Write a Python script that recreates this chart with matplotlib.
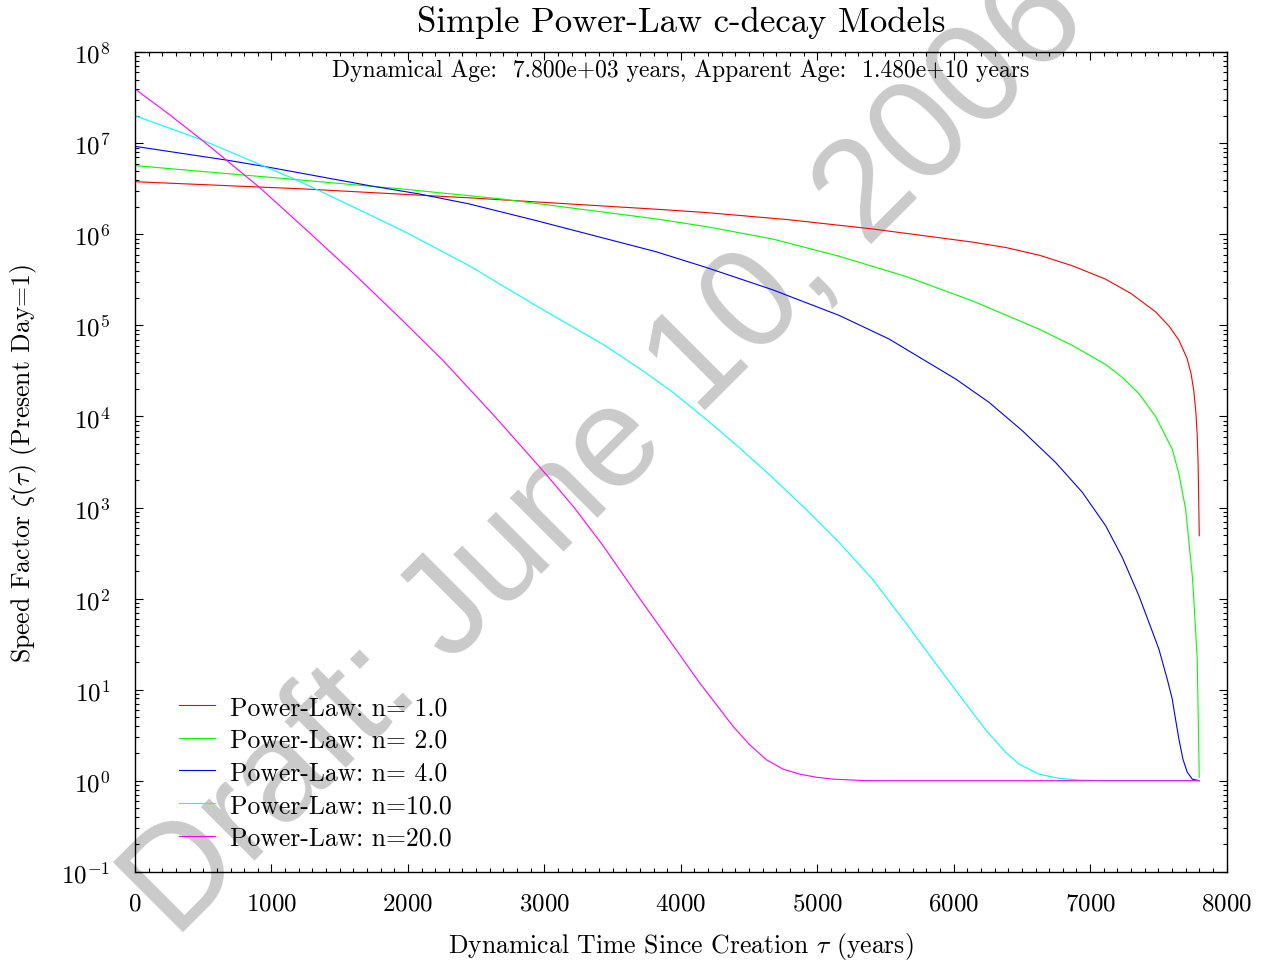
import numpy as np
from matplotlib import pyplot as plt
from matplotlib.ticker import MultipleLocator, LogLocator, NullFormatter

plt.rcParams['font.family'] = 'serif'
plt.rcParams['font.serif'] = ['cmr10']
plt.rcParams['mathtext.fontset'] = 'cm'
plt.rcParams['axes.formatter.use_mathtext'] = True

# Speed factor zeta(tau) vs dynamical time since creation (years), one pair per index n
tau_n1 = [0, 1230, 2450, 3820, 4180, 4790, 5400, 6140, 6385, 6630, 6870, 7110, 7300, 7480,
          7580, 7650, 7710, 7740, 7760, 7775, 7785, 7792, 7797, 7800]
zeta_n1 = [3.79e6, 3.16e6, 2.52e6, 1.89e6, 1.74e6, 1.45e6, 1.15e6, 8.22e5, 7.16e5, 5.89e5,
           4.52e5, 3.24e5, 2.24e5, 1.41e5, 9.77e4, 6.92e4, 4.37e4, 2.95e4, 1.91e4, 1.12e4,
           6.31e3, 2.82e3, 1.0e3, 490]

tau_n2 = [0, 984, 1961, 2694, 3817, 4183, 4671, 5160, 5648, 6137, 6625, 6870, 7114, 7236,
          7358, 7480, 7602, 7651, 7700, 7749, 7760, 7785, 7800]
zeta_n2 = [5.69e6, 4.24e6, 3.15e6, 2.44e6, 1.48e6, 1.22e6, 8.91e5, 5.75e5, 3.46e5, 1.86e5,
           9.12e4, 6.03e4, 3.72e4, 2.69e4, 1.78e4, 1.0e4, 4.37e3, 2.34e3, 962, 178, 98.9,
           21.7, 1.09]

tau_n4 = [0, 667, 947, 1717, 2083, 2449, 2938, 3817, 4183, 4671, 5160, 5526, 5770, 6015,
          6259, 6503, 6747, 6943, 7114, 7236, 7358, 7431, 7504, 7565, 7602, 7626, 7651,
          7680, 7712, 7749, 7800]
zeta_n4 = [9.27e6, 6.56e6, 5.58e6, 3.43e6, 2.78e6, 2.16e6, 1.42e6, 6.46e5, 4.35e5, 2.47e5,
           1.29e5, 7.10e4, 4.28e4, 2.58e4, 1.43e4, 6.98e3, 3.13e3, 1.47e3, 631, 283, 107,
           54.8, 27.9, 13.1, 7.89, 4.75, 2.86, 1.73, 1.24, 1.04, 1.0]

tau_n10 = [0, 483, 947, 1180, 1350, 1961, 2449, 2938, 3426, 3695, 3939, 4183, 4427, 4671,
           4916, 5160, 5404, 5648, 5844, 6137, 6234, 6381, 6479, 6625, 6772, 6918, 7100, 7800]
zeta_n10 = [2.01e7, 1.10e7, 5.58e6, 3.98e6, 3.02e6, 1.10e6, 4.53e5, 1.65e5, 6.25e4, 3.39e4,
            1.86e4, 9.38e3, 4.58e3, 2.14e3, 962, 414, 164, 54.3, 21.7, 5.62, 3.63, 2.05,
            1.52, 1.18, 1.06, 1.016, 1.0, 1.0]

tau_n20 = [0, 252, 496, 911, 1302, 1619, 1961, 2254, 2632, 3011, 3218, 3426, 3699, 4017,
           4139, 4261, 4383, 4505, 4627, 4749, 4871, 4994, 5116, 5360, 7800]
zeta_n20 = [3.95e7, 2.07e7, 1.07e7, 3.29e6, 9.68e5, 3.52e5, 1.13e5, 4.17e4, 1.02e4, 2.33e3,
            1.0e3, 389, 100, 21.4, 11.8, 6.84, 3.95, 2.48, 1.70, 1.34, 1.18, 1.09, 1.04,
            1.0, 1.0]

labels = ['Power-Law: n= 1.0', 'Power-Law: n= 2.0', 'Power-Law: n= 4.0',
          'Power-Law: n=10.0', 'Power-Law: n=20.0']
colors = ['#ff0000', '#00ff00', '#0000ff', '#00ffff', '#ff00ff']

fig = plt.figure(figsize=(12.68, 9.62), dpi=100)
ax = fig.add_axes([0.1065, 0.0928, 0.8608, 0.8518])
ax.set_facecolor('none')

# draft stamp sits under the axes
fig.text(175 / 1268, 1 - 940 / 962, 'Draft: June 10, 2006', rotation=45,
         rotation_mode='anchor', ha='left', va='baseline', fontsize=103,
         family='Liberation Sans', color='#cacaca', zorder=-1)

series = [(tau_n1, zeta_n1), (tau_n2, zeta_n2), (tau_n4, zeta_n4),
          (tau_n10, zeta_n10), (tau_n20, zeta_n20)]
for (tau, zeta), col, lab in zip(series, colors, labels):
    ax.plot(tau, zeta, color=col, lw=0.8, label=lab)

ax.set_yscale('log')
ax.set_xlim(0, 8000)
ax.set_ylim(1e-1, 1e8)
ax.xaxis.set_major_locator(MultipleLocator(1000))
ax.xaxis.set_minor_locator(MultipleLocator(100))
ax.yaxis.set_major_locator(LogLocator(base=10, numticks=20))
ax.yaxis.set_minor_locator(LogLocator(base=10, subs=np.arange(2, 10), numticks=20))
ax.yaxis.set_minor_formatter(NullFormatter())
ax.tick_params(which='both', direction='in', top=True, right=True, width=0.8, labelsize=18)
ax.tick_params(which='major', length=6)
ax.tick_params(which='minor', length=3)
ax.tick_params(axis='x', pad=15)
ax.tick_params(axis='y', pad=18)
for sp in ax.spines.values():
    sp.set_linewidth(1.0)

fig.text(680.75 / 1268, 1 - 31.7 / 962, 'Simple Power-Law c-decay Models',
         ha='center', va='baseline', fontsize=25)
ax.text(0.5, 0.9784, 'Dynamical Age:  7.800e+03 years, Apparent Age:  1.480e+10 years',
        transform=ax.transAxes, ha='center', va='center', fontsize=17)

ax.set_xlabel(r'Dynamical Time Since Creation $\tau$ (years)', fontsize=18.5)
ax.xaxis.set_label_coords(0.5, -0.071)
fig.text(24 / 1268, 0.5184, r'Speed Factor $\zeta(\tau)$ (Present Day=1)',
         rotation=90, ha='center', va='center', fontsize=18.5)

ax.legend(loc='lower left', bbox_to_anchor=(0.0403, 0.0266), frameon=False, fontsize=18.5,
          borderpad=0, borderaxespad=0, handlelength=1.4, handletextpad=0.58,
          labelspacing=0.35)

fig.savefig('out.png', dpi=100)
